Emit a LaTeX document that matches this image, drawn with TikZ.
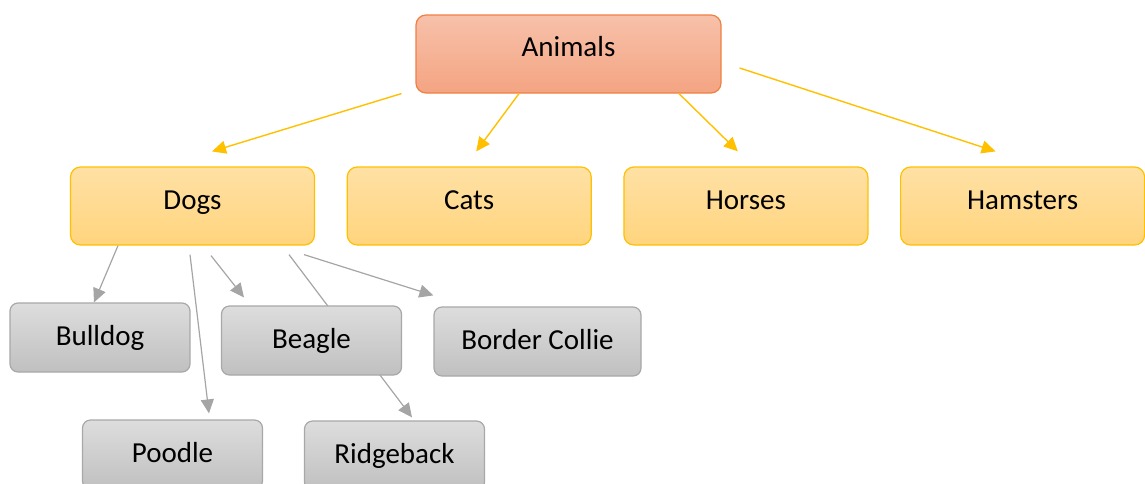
\documentclass[tikz,border=0pt]{standalone}
\usepackage{fontspec}
\setmainfont{Carlito}
\usetikzlibrary{positioning,arrows.meta}
\definecolor{RootTop}{RGB}{247,193,170}
\definecolor{RootBot}{RGB}{244,164,130}
\definecolor{RootBorder}{RGB}{239,128,66}
\definecolor{KindTop}{RGB}{255,225,165}
\definecolor{KindBot}{RGB}{255,212,125}
\definecolor{KindBorder}{RGB}{255,192,0}
\definecolor{BreedTop}{RGB}{221,221,221}
\definecolor{BreedBot}{RGB}{192,192,192}
\definecolor{BreedBorder}{RGB}{168,168,168}
\definecolor{LinkGray}{RGB}{165,165,165}

\begin{document}
\begin{tikzpicture}[
  x=1pt, y=-1pt,
  font=\fontsize{29}{34}\selectfont,
  node distance=31.5pt,
  root/.style={
    rectangle, rounded corners=10pt, draw=RootBorder, line width=1.2pt,
    top color=RootTop, bottom color=RootBot, align=center,
    minimum width=305pt, minimum height=78pt, text height=20pt, text depth=15pt
  },
  kind/.style={
    rectangle, rounded corners=10pt, draw=KindBorder, line width=1.2pt,
    top color=KindTop, bottom color=KindBot, align=center,
    minimum width=244pt, minimum height=78pt, text height=20pt, text depth=13.5pt
  },
  breed/.style={
    rectangle, rounded corners=8pt, draw=BreedBorder, line width=1.2pt,
    top color=BreedTop, bottom color=BreedBot, align=center,
    minimum width=180pt, minimum height=69pt, text height=20pt, text depth=4.5pt
  },
  yarrow/.style={-{Triangle[length=14pt,width=13pt]}, line width=1.4pt, draw=KindBorder},
  garrow/.style={-{Triangle[length=14pt,width=13pt]}, line width=1.2pt, draw=LinkGray}
]
\useasboundingbox (0,0) rectangle (1145,483);

% Root and the four kinds
\node[root] (animals) at (568.5,54) {Animals};
\node[kind] (dogs) at (192.5,206) {Dogs};
\node[kind, right=of dogs] (cats) {Cats};
\node[kind, right=of cats] (horses) {Horses};
\node[kind, right=of horses] (hamsters) {Hamsters};

% Dog breeds
\node[breed] (bulldog) at (100,337.5) {Bulldog};
\node[breed] (poodle) at (172.5,454.5) {Poodle};
\node[breed] (ridgeback) at (394.5,455.5) {Ridgeback};

% this one runs under the Beagle box, so it goes before it
\draw[garrow] ([xshift=96.5pt,yshift=-9pt]dogs.south) -- ([xshift=17.5pt,yshift=3pt]ridgeback.north);

\node[breed] (beagle) at (311.5,340.5) {Beagle};
\node[breed, minimum width=207pt] (collie) at (537.5,341.5) {Border Collie};

% --- edges ---
\draw[yarrow] ([xshift=-14pt]animals.south west) -- ([xshift=19.5pt,yshift=15pt]dogs.north);
\draw[yarrow] ([xshift=-49.5pt]animals.south) -- ([xshift=7pt,yshift=15pt]cats.north);
\draw[yarrow] ([xshift=110.5pt]animals.south) -- ([xshift=-8pt,yshift=15pt]horses.north);
\draw[yarrow] ([xshift=18pt,yshift=-14pt]animals.east) -- ([xshift=-27pt,yshift=15pt]hamsters.north);

\draw[garrow] ([xshift=-74.5pt]dogs.south) -- ([xshift=-6pt]bulldog.north);
\draw[garrow] ([xshift=-2.5pt,yshift=-9pt]dogs.south) -- ([xshift=36.5pt,yshift=6pt]poodle.north);
\draw[garrow] ([xshift=18.5pt,yshift=-10pt]dogs.south) -- ([xshift=-67.5pt,yshift=8pt]beagle.north);
\draw[garrow] ([xshift=111.5pt,yshift=-9pt]dogs.south) -- ([yshift=11pt]collie.north west);

\end{tikzpicture}
\end{document}
